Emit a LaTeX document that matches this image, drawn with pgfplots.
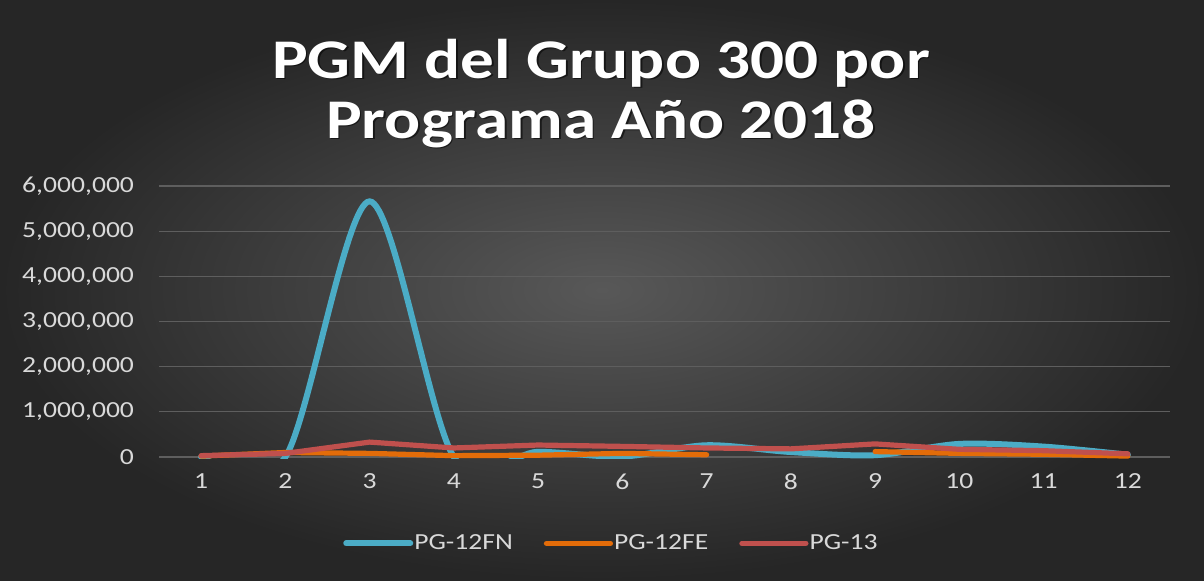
\documentclass[border=0pt]{standalone}
\usepackage{pgfplots}
\pgfplotsset{compat=1.18}
\usepackage{fontspec}
\setmainfont{Carlito}[FakeStretch=1.2]

\definecolor{bgin}{HTML}{585858}
\definecolor{bgout}{HTML}{262626}
\definecolor{gridc}{HTML}{5E5E5E}
\definecolor{tickc}{HTML}{D9D9D9}
\definecolor{fnblue}{HTML}{4BACC6}
\definecolor{feorange}{HTML}{E36C09}
\definecolor{pgred}{HTML}{C0504D}

\begin{document}
\begin{tikzpicture}
\useasboundingbox (0,0) rectangle (602pt,290pt);
\shade[inner color=bgin, outer color=bgout] (0,0) rectangle (602pt,290pt);

\begin{axis}[
    at={(79.5pt,60.6pt)}, anchor=south west,
    scale only axis,
    width=505.5pt, height=136.4pt,
    xmin=0.5, xmax=12.5,
    ymin=-40000, ymax=6000000,
    xtick={1,...,12},
    ytick={0,1000000,2000000,3000000,4000000,5000000,6000000},
    scaled y ticks=false,
    /pgf/number format/.cd, fixed, precision=0, 1000 sep={,}, assume math mode=true, /pgfplots/.cd,
    axis line style={draw=none},
    major tick length=0pt,
    ymajorgrids,
    grid style={color=gridc, line width=0.6pt},
    ticklabel style={font=\fontsize{11.5}{13}\selectfont, text=tickc},
    xticklabel style={yshift=-4pt},
    yticklabel style={xshift=-9pt},
    clip=true,
    unbounded coords=jump,
    legend style={at={(axis description cs:0.447,-0.31)}, anchor=center,
        draw=none, fill=none, text=tickc, font=\fontsize{11.5}{13}\selectfont,
        legend columns=3,
        nodes={inner xsep=0.5pt},
        /tikz/every even column/.append style={column sep=15pt}},
    legend image code/.code={\draw[#1] (0pt,0pt) -- (32pt,0pt);},
]

% PG-12FN (Excel smoothed line, clipped at the bottom of the plot area)
\addplot[fnblue, line width=3pt, line cap=round, smooth, tension=0.5] coordinates {
    (1,0) (2,0) (3,5660000) (4,0) (5,115000) (6,10000)
    (7,260000) (8,110000) (9,40000) (10,290000) (11,230000) (12,50000)
};

% PG-12FE (no value in 8)
\addplot[feorange, line width=2.6pt, line cap=round] coordinates {
    (1,20000) (2,100000) (3,80000) (4,30000) (5,40000) (6,80000)
    (7,50000) (8,nan) (9,120000) (10,80000) (11,60000) (12,20000)
};

% PG-13
\addplot[pgred, line width=2.6pt, line cap=round] coordinates {
    (1,30000) (2,80000) (3,330000) (4,200000) (5,265000) (6,235000)
    (7,200000) (8,180000) (9,290000) (10,170000) (11,140000) (12,70000)
};

\legend{PG-12FN, PG-12FE, PG-13}
\end{axis}

\foreach \dx/\dy/\col/\op in {0.9pt/-0.9pt/black/0.55, 0pt/0pt/white/1} {
  \node[anchor=base, text=\col, text opacity=\op, font=\bfseries\fontsize{28}{30}\selectfont]
    at ([xshift=\dx, yshift=\dy]300.5pt,251pt) {PGM del Grupo 300 por};
  \node[anchor=base, text=\col, text opacity=\op, font=\bfseries\fontsize{28}{30}\selectfont]
    at ([xshift=\dx, yshift=\dy]300.5pt,221pt) {Programa Año 2018};
}
\end{tikzpicture}
\end{document}
